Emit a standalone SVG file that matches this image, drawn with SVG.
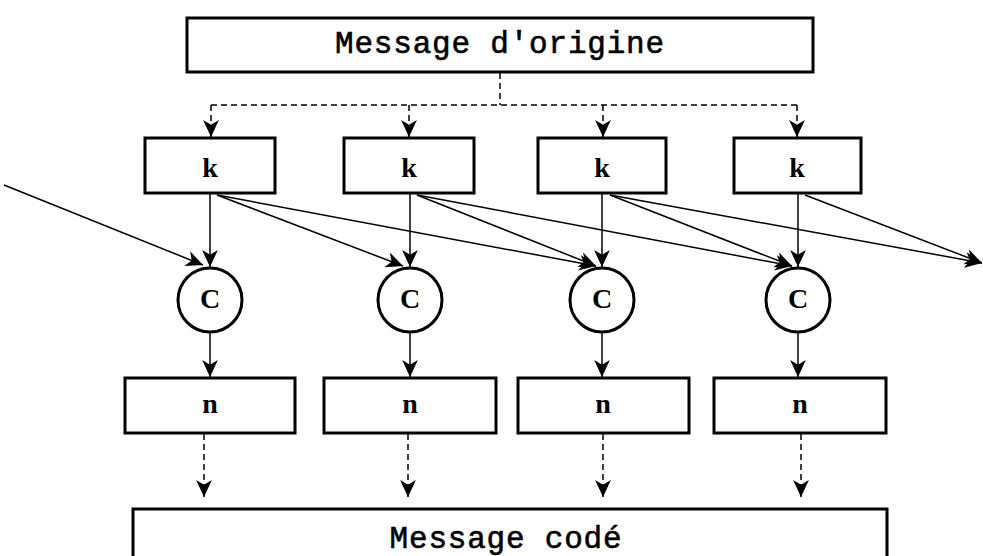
<svg xmlns="http://www.w3.org/2000/svg" width="983" height="556" viewBox="0 0 983 556">
<style>
.box{fill:#fff;stroke:#000;stroke-width:3}
.circ{fill:#fff;stroke:#000;stroke-width:3}
.ln{fill:none;stroke:#000;stroke-width:1.5}
.ds{fill:none;stroke:#000;stroke-width:1.5;stroke-dasharray:6 4}
.big{font-family:"Liberation Mono","Courier New",monospace;font-size:31px;letter-spacing:0.8px;fill:#000;stroke:#000;stroke-width:0.6;text-anchor:middle}
.sm{font-family:"Liberation Serif","Times New Roman",serif;font-size:28px;font-weight:bold;fill:#000;text-anchor:middle}
</style>
<defs>
<marker id="ah" viewBox="0 0 14 14" refX="14" refY="7" markerWidth="17" markerHeight="17" markerUnits="userSpaceOnUse" orient="auto">
<path d="M0,0.5 L14,7 L0,13.5 L4,7 z" fill="#000"/>
</marker>
</defs>
<g id="connectors">
<path class="ds" d="M500,73 V105 M211,105 H797"/>
<path class="ds" d="M211,105 V137" marker-end="url(#ah)"/>
<path class="ds" d="M409,105 V137" marker-end="url(#ah)"/>
<path class="ds" d="M603,105 V137" marker-end="url(#ah)"/>
<path class="ds" d="M797,105 V137" marker-end="url(#ah)"/>
<path class="ln" d="M210,194 V267" marker-end="url(#ah)"/>
<path class="ln" d="M410,194 V267" marker-end="url(#ah)"/>
<path class="ln" d="M602,194 V267" marker-end="url(#ah)"/>
<path class="ln" d="M798,194 V267" marker-end="url(#ah)"/>
<path class="ln" d="M4,185 L203,265" marker-end="url(#ah)"/>
<path class="ln" d="M217,195 L403,266" marker-end="url(#ah)"/>
<path class="ln" d="M217,195 L596,266" marker-end="url(#ah)"/>
<path class="ln" d="M417,195 L596,266" marker-end="url(#ah)"/>
<path class="ln" d="M417,195 L792,266" marker-end="url(#ah)"/>
<path class="ln" d="M610,195 L792,266" marker-end="url(#ah)"/>
<path class="ln" d="M610,195 L982,263" marker-end="url(#ah)"/>
<path class="ln" d="M805,195 L982,263" marker-end="url(#ah)"/>
<path class="ln" d="M210,333 V377" marker-end="url(#ah)"/>
<path class="ln" d="M410,333 V377" marker-end="url(#ah)"/>
<path class="ln" d="M602,333 V377" marker-end="url(#ah)"/>
<path class="ln" d="M798,333 V377" marker-end="url(#ah)"/>
<path class="ds" d="M204,434 V497" marker-end="url(#ah)"/>
<path class="ds" d="M408,434 V497" marker-end="url(#ah)"/>
<path class="ds" d="M603,434 V497" marker-end="url(#ah)"/>
<path class="ds" d="M801,434 V497" marker-end="url(#ah)"/>
</g>
<g id="origine">
<rect class="box" x="187" y="18" width="626" height="54"/>
<text class="big" x="500" y="53">Message d'origine</text>
</g>
<g id="k1"><rect class="box" x="145" y="138" width="130" height="55"/><text class="sm" x="210" y="177">k</text></g>
<g id="k2"><rect class="box" x="344" y="138" width="130" height="55"/><text class="sm" x="409" y="177">k</text></g>
<g id="k3"><rect class="box" x="538" y="138" width="128" height="55"/><text class="sm" x="602" y="177">k</text></g>
<g id="k4"><rect class="box" x="734" y="138" width="127" height="55"/><text class="sm" x="797" y="177">k</text></g>
<g id="c1"><circle class="circ" cx="210" cy="300" r="32"/><text class="sm" x="210" y="308" font-size="23">C</text></g>
<g id="c2"><circle class="circ" cx="410" cy="300" r="32"/><text class="sm" x="410" y="308" font-size="23">C</text></g>
<g id="c3"><circle class="circ" cx="602" cy="300" r="32"/><text class="sm" x="602" y="308" font-size="23">C</text></g>
<g id="c4"><circle class="circ" cx="798" cy="300" r="32"/><text class="sm" x="798" y="308" font-size="23">C</text></g>
<g id="n1"><rect class="box" x="125" y="378" width="170" height="55"/><text class="sm" x="210" y="413">n</text></g>
<g id="n2"><rect class="box" x="324" y="378" width="172" height="55"/><text class="sm" x="410" y="413">n</text></g>
<g id="n3"><rect class="box" x="518" y="378" width="171" height="55"/><text class="sm" x="603" y="413">n</text></g>
<g id="n4"><rect class="box" x="714" y="378" width="172" height="55"/><text class="sm" x="800" y="413">n</text></g>
<g id="code">
<rect class="box" x="133" y="509" width="754" height="60"/>
<text class="big" x="506" y="548">Message codé</text>
</g>
</svg>
